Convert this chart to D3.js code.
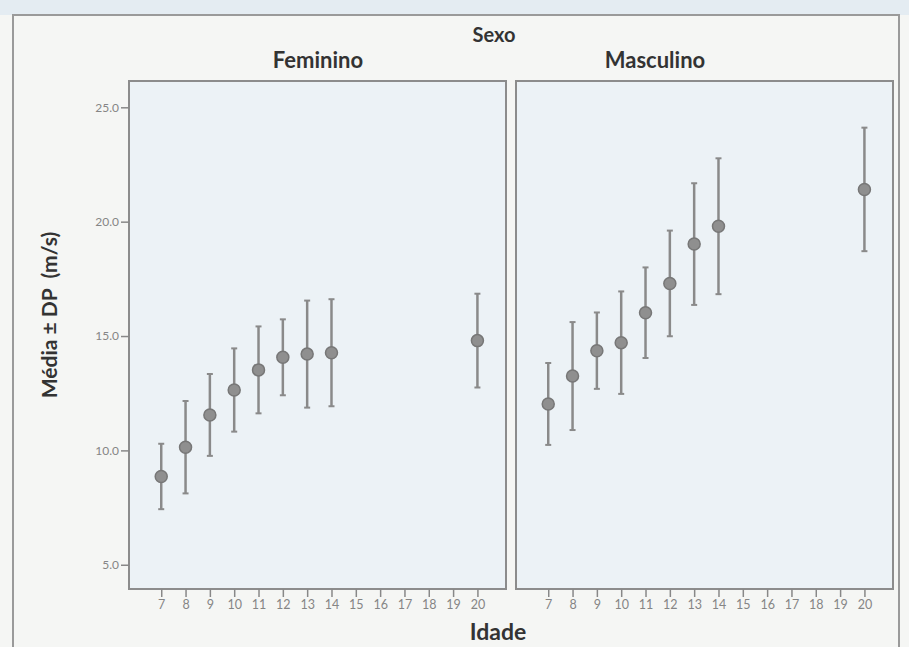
<!DOCTYPE html>
<html>
<head>
<meta charset="utf-8">
<script src="https://cdn.jsdelivr.net/npm/d3@7"></script>
<style>
  body { margin: 0; background: #f5f6f4; }
  svg { display: block; }
</style>
</head>
<body>
<script>
// ages on the x axis (every year from 7 to 20)
var ages = [7, 8, 9, 10, 11, 12, 13, 14, 15, 16, 17, 18, 19, 20];
// ages that have a measured group
var groupAges = [7, 8, 9, 10, 11, 12, 13, 14, 20];

// mean and standard deviation per group
var femMean = [8.86, 10.14, 11.55, 12.64, 13.52, 14.07, 14.21, 14.27, 14.8];
var femSD = [1.43, 2.02, 1.79, 1.82, 1.9, 1.66, 2.34, 2.34, 2.05];
var mascMean = [12.03, 13.25, 14.36, 14.71, 16.02, 17.3, 19.02, 19.8, 21.41];
var mascSD = [1.79, 2.36, 1.67, 2.24, 1.98, 2.31, 2.66, 2.97, 2.7];

var panelNames = ["Feminino", "Masculino"];
var yTicks = [5, 10, 15, 20, 25];

window.onload = function() {

var width = 909, height = 647;
var top = 81, bottom = 589; //panel top and bottom
var panelX = [129, 516]; //left edge of each panel
var panelW = 377;
var labelX = [318, 655]; //where the facet titles sit

var svg = d3.select("body").append("svg")
  .attr("width", width)
  .attr("height", height);

// background bits: bluish strip above the frame, off-white page
svg.append("rect").attr("x", 0).attr("y", 0).attr("width", width).attr("height", height).attr("fill", "#f5f6f4");
svg.append("rect").attr("x", 0).attr("y", 0).attr("width", width).attr("height", 15).attr("fill", "#e4ecf2");

// outer frame of the chart
svg.append("rect")
  .attr("x", 13).attr("y", 15)
  .attr("width", 886).attr("height", 700)
  .attr("fill", "none")
  .attr("stroke", "#9a9a9a")
  .attr("stroke-width", 2);

var y = d3.scaleLinear().domain([3.94, 26.15]).range([bottom, top]);

var series = [
  { mean: femMean, sd: femSD },
  { mean: mascMean, sd: mascSD }
];

series.forEach(function(s, i) {
  var x = d3.scalePoint()
    .domain(ages)
    .range([panelX[i], panelX[i] + panelW])
    .padding(1.25)
    .align(0.53);

  // panel box
  svg.append("rect")
    .attr("x", panelX[i]).attr("y", top)
    .attr("width", panelW).attr("height", bottom - top)
    .attr("fill", "#ecf2f6")
    .attr("stroke", "#8c8c8c")
    .attr("stroke-width", 2);

  // x axis
  var xg = svg.append("g")
    .attr("transform", "translate(0," + bottom + ")")
    .call(d3.axisBottom(x).tickSize(8).tickPadding(3));
  xg.select(".domain").remove();
  xg.selectAll("line").attr("stroke", "#888").attr("stroke-width", 1.5);
  xg.selectAll("text")
    .attr("fill", "#858585")
    .style("font-family", "Lato, 'Open Sans', sans-serif")
    .style("font-size", "12.5px");

  // y axis only on the first panel
  if (i === 0) {
    var yg = svg.append("g")
      .attr("transform", "translate(" + panelX[0] + ",0)")
      .call(d3.axisLeft(y).tickValues(yTicks).tickFormat(d3.format(".1f")).tickSize(8).tickPadding(2));
    yg.select(".domain").remove();
    yg.selectAll("line").attr("stroke", "#888").attr("stroke-width", 1.5);
    yg.selectAll("text")
      .attr("fill", "#858585")
      .style("font-family", "Lato, 'Open Sans', sans-serif")
      .style("font-size", "12px");
  }

  // facet title
  svg.append("text")
    .attr("x", labelX[i]).attr("y", 68)
    .attr("text-anchor", "middle")
    .attr("fill", "#333")
    .style("font-family", "Lato, sans-serif")
    .style("font-weight", "bold")
    .style("font-size", "22px")
    .text(panelNames[i]);

  var g = svg.append("g");
  groupAges.forEach(function(a, j) {
    var cx = x(a);
    var lo = y(s.mean[j] - s.sd[j]);
    var hi = y(s.mean[j] + s.sd[j]);
    g.append("line") //error bar
      .attr("x1", cx).attr("x2", cx).attr("y1", hi).attr("y2", lo)
      .attr("stroke", "#8a8a8a").attr("stroke-width", 2.5);
    [hi, lo].forEach(function(v) { //small caps
      g.append("line")
        .attr("x1", cx - 3).attr("x2", cx + 3).attr("y1", v).attr("y2", v)
        .attr("stroke", "#8a8a8a").attr("stroke-width", 2);
    });
    g.append("circle") //mean marker
      .attr("cx", cx).attr("cy", y(s.mean[j]))
      .attr("r", 6)
      .attr("fill", "#8f8f8f")
      .attr("stroke", "#777")
      .attr("stroke-width", 1.5);
  });
});

// chart title and axis titles
svg.append("text")
  .attr("x", 494).attr("y", 42)
  .attr("text-anchor", "middle")
  .attr("fill", "#333")
  .style("font-family", "Lato, sans-serif")
  .style("font-weight", "bold")
  .style("font-size", "20px")
  .text("Sexo");

svg.append("text")
  .attr("x", 498).attr("y", 640)
  .attr("text-anchor", "middle")
  .attr("fill", "#333")
  .style("font-family", "Lato, sans-serif")
  .style("font-weight", "bold")
  .style("font-size", "23px")
  .text("Idade");

svg.append("text")
  .attr("transform", "translate(57,315) rotate(-90)")
  .attr("text-anchor", "middle")
  .attr("fill", "#333")
  .style("font-family", "Lato, sans-serif")
  .style("font-weight", "bold")
  .style("font-size", "21px")
  .text("Média ± DP\u00a0\u00a0(m/s)");

};
</script>
</body>
</html>
